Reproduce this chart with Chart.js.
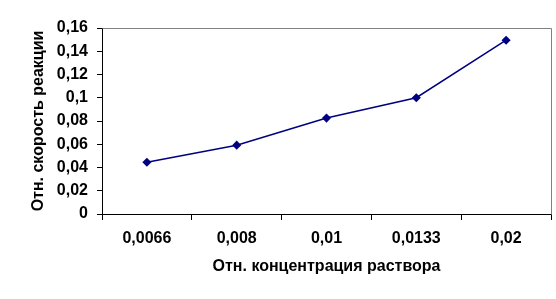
<!DOCTYPE html>
<html>
<head>
<meta charset="utf-8">
<script src="https://cdn.jsdelivr.net/npm/chart.js@4"></script>
<style>
  html, body { margin: 0; padding: 0; background: #fff; }
  #wrap { width: 556px; height: 299px; }
</style>
</head>
<body>
<div id="wrap"><canvas id="chart" width="556" height="299"></canvas></div>
<script>
// Data
const categories = ['0,0066', '0,008', '0,01', '0,0133', '0,02'];
const rates = [0.0445, 0.0592, 0.0825, 0.1, 0.1495];
const yTickLabels = ['0', '0,02', '0,04', '0,06', '0,08', '0,1', '0,12', '0,14', '0,16'];

const xTitle = 'Отн. концентрация раствора';
const yTitle = 'Отн. скорость реакции';

const boldFont = { family: '"Liberation Sans", Arial, sans-serif', size: 16, weight: 'bold' };

// gray frame on the top and right of the plot area
const frame = {
    id: 'frame',
    afterDraw(chart) {
        const { ctx, chartArea: a } = chart;
        ctx.save();
        ctx.strokeStyle = '#808080';
        ctx.lineWidth = 1;
        ctx.beginPath();
        ctx.moveTo(Math.round(a.left) + 0.5, Math.round(a.top) + 0.5);
        ctx.lineTo(Math.round(a.right) + 0.5, Math.round(a.top) + 0.5);
        ctx.lineTo(Math.round(a.right) + 0.5, Math.round(a.bottom) + 0.5);
        ctx.stroke();
        ctx.restore();
    }
};

new Chart(document.getElementById('chart'), {
    type: 'line',
    data: {
        labels: categories,
        datasets: [{
            data: rates,
            borderColor: '#000080',
            backgroundColor: '#000080',
            borderWidth: 1.5,
            pointStyle: 'rectRot',
            pointRadius: 3.5,
            pointHoverRadius: 3.5,
            tension: 0
        }]
    },
    options: {
        responsive: false,
        animation: false,
        events: [],
        layout: { padding: { top: 28, right: 5, left: 0, bottom: 0 } },
        plugins: {
            legend: { display: false },
            tooltip: { enabled: false }
        },
        scales: {
            x: {
                offset: true,
                grid: { offset: true, drawOnChartArea: false, color: '#000', tickLength: 6 },
                border: { color: '#000', width: 1 },
                ticks: { color: '#000', font: boldFont, padding: 9, maxRotation: 0 },
                title: { display: true, text: xTitle, color: '#000', font: boldFont, padding: { top: 0, bottom: 23 } },
                afterFit: s => { s.height = 85; }
            },
            y: {
                min: 0,
                max: 0.16,
                ticks: {
                    stepSize: 0.02,
                    color: '#000',
                    font: boldFont,
                    padding: 9,
                    callback: (v, i) => yTickLabels[i]
                },
                grid: { drawOnChartArea: false, color: '#000', tickLength: 5 },
                border: { color: '#000', width: 1 },
                title: { display: true, text: yTitle, color: '#000', font: boldFont, padding: { top: 29, bottom: 0 } },
                afterFit: s => { s.width = 102; }
            }
        }
    },
    plugins: [frame]
});
</script>
</body>
</html>
